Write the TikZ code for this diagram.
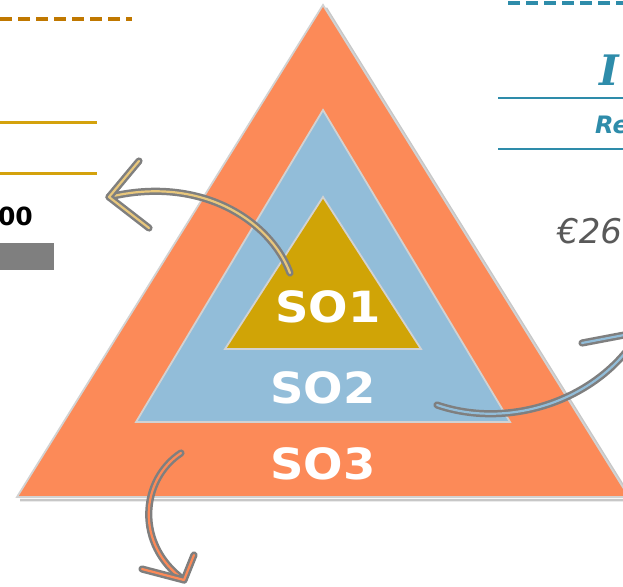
\documentclass[tikz,border=0pt]{standalone}
\usepackage{fontspec}
\setmainfont{DejaVu Sans}
\newfontfamily\serifbi{DejaVu Serif}
\definecolor{cOrange}{HTML}{FC8A58}
\definecolor{cBlue}{HTML}{92BDD9}
\definecolor{cGold}{HTML}{D0A406}
\definecolor{cEdge}{HTML}{D2D2D2}
\definecolor{cArrowGold}{HTML}{E8C77C}
\definecolor{cGrey}{HTML}{7F7F7F}
\definecolor{cBrown}{HTML}{C07800}
\definecolor{cLineGold}{HTML}{D4A20C}
\definecolor{cTeal}{HTML}{2E8CAA}
\definecolor{cText}{HTML}{595959}
\begin{document}
\begin{tikzpicture}[x=1pt,y=-1pt,
  tri/.style={draw=cEdge, line width=1.8pt, line join=miter},
  solabel/.style={text=white, font=\bfseries\fontsize{43}{43}\selectfont, inner sep=0pt, transform shape, xscale=1.08},
  dblarrow/.style={draw=cGrey, double=#1, line width=2.5pt, double distance=2.2pt, line cap=round, line join=round},
  goldline/.style={draw=cLineGold, line width=3pt},
  tealline/.style={draw=cTeal, line width=2.6pt}]
\useasboundingbox (0,0) rectangle (623,586);
\clip (0,0) rectangle (623,586);
% triangles
\draw[draw=black!22, line width=2.5pt] (326,8) -- (632,500) -- (20,500);
\path[tri, fill=cOrange] (17,497) -- (323,5) -- (629,497) -- cycle;
\path[tri, fill=cBlue] (136,422) -- (323,110) -- (510,422) -- cycle;
\path[tri, fill=cGold] (225,349) -- (323,197) -- (421,349) -- cycle;
\node[solabel] (so1) at (328,307) {SO1};
\node[solabel] (so2) at (323,388) {SO2};
\node[solabel] (so3) at (323,464) {SO3};
% left side
\coordinate (ld1) at (0,19); \coordinate (ld2) at (132,19);
\draw[draw=cBrown, line width=3.5pt, dash pattern=on 12pt off 6pt] (ld1) -- (ld2);
\coordinate (lg1) at (0,122); \coordinate (lg2) at (97,122);
\coordinate (lg3) at (0,173); \coordinate (lg4) at (97,173);
\draw[goldline] (lg1) -- (lg2);
\draw[goldline] (lg3) -- (lg4);
\node[anchor=east, inner sep=0pt, font=\bfseries\fontsize{25}{25}\selectfont] (num) at (33,216) {00};
\fill[cGrey] (0,243) rectangle (54,270);
% right side
\coordinate (rd1) at (508,3); \coordinate (rd2) at (623,3);
\draw[draw=cTeal, line width=3.5pt, dash pattern=on 12pt off 6pt] (rd1) -- (rd2);
\node[anchor=west, inner sep=0pt, text=cTeal, font=\serifbi\bfseries\itshape\fontsize{42}{42}\selectfont] (ti) at (599,70) {I};
\coordinate (rl1) at (498,98); \coordinate (rl2) at (623,98);
\coordinate (rl3) at (498,149); \coordinate (rl4) at (623,149);
\draw[tealline] (rl1) -- (rl2);
\draw[tealline] (rl3) -- (rl4);
\node[anchor=west, inner sep=0pt, text=cTeal, font=\bfseries\itshape\fontsize{24}{24}\selectfont] (re) at (595,125) {Re};
\node[anchor=west, inner sep=0pt, text=cText, font=\itshape\fontsize{34}{34}\selectfont] (eur) at (557,231) {€26};
% arrow 1
\coordinate (a1s) at (290,273); \coordinate (a1t) at (109,197);
\coordinate (a1u) at (139,161); \coordinate (a1d) at (149,228);
\draw[dblarrow=cArrowGold] (a1s) .. controls (270,220) and (200,175) .. (a1t);
\draw[dblarrow=cArrowGold] (a1u) -- (a1t) -- (a1d);
% arrow 2
\coordinate (a2s) at (437,405); \coordinate (a2t) at (640,332);
\coordinate (a2u) at (582,343); \coordinate (a2d) at (650,392);
\draw[dblarrow=cBlue] (a2s) .. controls (510,430) and (600,400) .. (a2t);
\draw[dblarrow=cBlue] (a2u) -- (a2t) -- (a2d);
% arrow 3
\coordinate (a3s) at (181,453); \coordinate (a3t) at (184,580);
\coordinate (a3l) at (142,569); \coordinate (a3r) at (194,555);
\draw[dblarrow=cOrange] (a3s) .. controls (140,480) and (135,545) .. (a3t);
\draw[dblarrow=cOrange] (a3l) -- (a3t) -- (a3r);
\end{tikzpicture}
\end{document}
